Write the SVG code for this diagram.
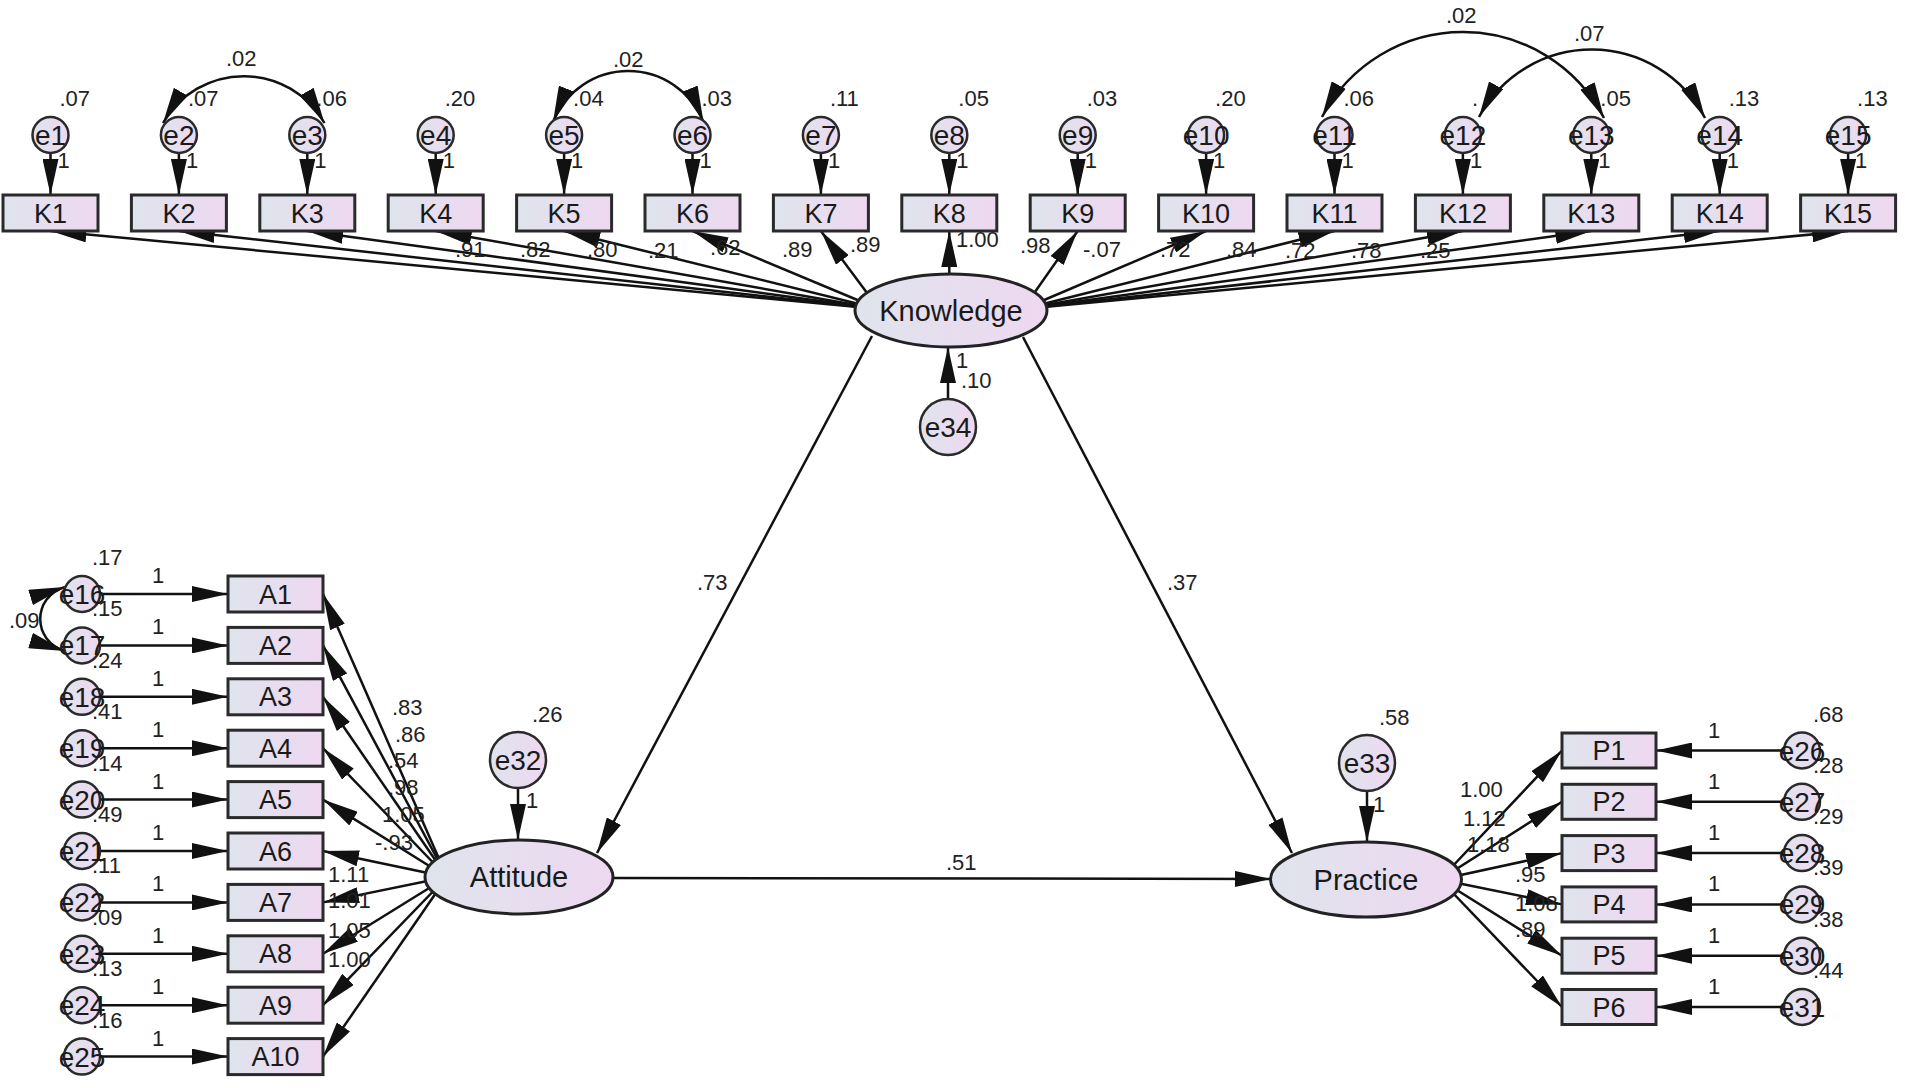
<svg xmlns="http://www.w3.org/2000/svg" width="1905" height="1088" viewBox="0 0 1905 1088">
<defs>
<linearGradient id="gf" x1="0" y1="0" x2="1" y2="0">
<stop offset="0" stop-color="#dfe4ec"/>
<stop offset="1" stop-color="#eed8f1"/>
</linearGradient>
<marker id="ar" viewBox="0 0 36 16" refX="36" refY="8" markerWidth="36" markerHeight="16" markerUnits="userSpaceOnUse" orient="auto-start-reverse">
<path d="M0,0 L36,8 L0,16 Z" fill="#111"/>
</marker>
</defs>
<style>
.bx{fill:url(#gf);stroke:#2a2a2a;stroke-width:3}
.ci{fill:url(#gf);stroke:#2a2a2a;stroke-width:2.5}
.el{fill:url(#gf);stroke:#222;stroke-width:3}
.ln{fill:none;stroke:#111;stroke-width:2.5;marker-end:url(#ar)}
.cv{fill:none;stroke:#111;stroke-width:2.5;marker-start:url(#ar);marker-end:url(#ar)}
text{font-family:"Liberation Sans",Arial,sans-serif;fill:#1a1a1a}
.bl{font-size:27px;text-anchor:middle}
.ll{font-size:29px;text-anchor:middle}
.el2{font-size:28px;text-anchor:middle}
.nm{font-size:22px;fill:#222}
</style>
<rect width="1905" height="1088" fill="#ffffff"/>

<g id="connectors">
<!-- error to K boxes -->
<line class="ln" x1="50.5" y1="153" x2="50.5" y2="195"/>
<line class="ln" x1="178.9" y1="153" x2="178.9" y2="195"/>
<line class="ln" x1="307.3" y1="153" x2="307.3" y2="195"/>
<line class="ln" x1="435.7" y1="153" x2="435.7" y2="195"/>
<line class="ln" x1="564.1" y1="153" x2="564.1" y2="195"/>
<line class="ln" x1="692.5" y1="153" x2="692.5" y2="195"/>
<line class="ln" x1="820.9" y1="153" x2="820.9" y2="195"/>
<line class="ln" x1="949.3" y1="153" x2="949.3" y2="195"/>
<line class="ln" x1="1077.7" y1="153" x2="1077.7" y2="195"/>
<line class="ln" x1="1206.1" y1="153" x2="1206.1" y2="195"/>
<line class="ln" x1="1334.5" y1="153" x2="1334.5" y2="195"/>
<line class="ln" x1="1462.9" y1="153" x2="1462.9" y2="195"/>
<line class="ln" x1="1591.3" y1="153" x2="1591.3" y2="195"/>
<line class="ln" x1="1719.7" y1="153" x2="1719.7" y2="195"/>
<line class="ln" x1="1848.1" y1="153" x2="1848.1" y2="195"/>
<!-- Knowledge to K boxes -->
<line class="ln" x1="879" y1="309" x2="50.5" y2="231"/>
<line class="ln" x1="879" y1="309" x2="178.9" y2="231"/>
<line class="ln" x1="879" y1="309" x2="307.3" y2="231"/>
<line class="ln" x1="879" y1="309" x2="435.7" y2="231"/>
<line class="ln" x1="879" y1="309" x2="564.1" y2="231"/>
<line class="ln" x1="879" y1="309" x2="692.5" y2="231"/>
<line class="ln" x1="879" y1="309" x2="820.9" y2="231"/>
<line class="ln" x1="949.3" y1="310" x2="949.3" y2="231"/>
<line class="ln" x1="1023" y1="309" x2="1077.7" y2="231"/>
<line class="ln" x1="1023" y1="309" x2="1206.1" y2="231"/>
<line class="ln" x1="1023" y1="309" x2="1334.5" y2="231"/>
<line class="ln" x1="1023" y1="309" x2="1462.9" y2="231"/>
<line class="ln" x1="1023" y1="309" x2="1591.3" y2="231"/>
<line class="ln" x1="1023" y1="309" x2="1719.7" y2="231"/>
<line class="ln" x1="1023" y1="309" x2="1848.1" y2="231"/>
<!-- covariances top -->
<path class="cv" d="M163,123 A93,93 0 0 1 324.5,123"/>
<path class="cv" d="M553,122 A81,81 0 0 1 703.5,122"/>
<path class="cv" d="M1322,117 A159,159 0 0 1 1604,118"/>
<path class="cv" d="M1479,117 A128,128 0 0 1 1705,118"/>
<!-- e34 to Knowledge -->
<line class="ln" x1="948" y1="399" x2="948" y2="347"/>
<!-- structural -->
<line class="ln" x1="872" y1="336" x2="597" y2="853"/>
<line class="ln" x1="1023" y1="337" x2="1292" y2="853"/>
<line class="ln" x1="613" y1="878" x2="1271" y2="879"/>
<!-- e32, e33 -->
<line class="ln" x1="518" y1="788" x2="518" y2="840"/>
<line class="ln" x1="1367" y1="791" x2="1367" y2="842"/>
<!-- errors to A boxes -->
<line class="ln" x1="100" y1="594" x2="228" y2="594"/>
<line class="ln" x1="100" y1="645.4" x2="228" y2="645.4"/>
<line class="ln" x1="100" y1="696.8" x2="228" y2="696.8"/>
<line class="ln" x1="100" y1="748.2" x2="228" y2="748.2"/>
<line class="ln" x1="100" y1="799.6" x2="228" y2="799.6"/>
<line class="ln" x1="100" y1="851" x2="228" y2="851"/>
<line class="ln" x1="100" y1="902.4" x2="228" y2="902.4"/>
<line class="ln" x1="100" y1="953.8" x2="228" y2="953.8"/>
<line class="ln" x1="100" y1="1005.2" x2="228" y2="1005.2"/>
<line class="ln" x1="100" y1="1056.6" x2="228" y2="1056.6"/>
<!-- Attitude to A boxes -->
<line class="ln" x1="447" y1="877" x2="323" y2="594"/>
<line class="ln" x1="447" y1="877" x2="323" y2="645.4"/>
<line class="ln" x1="447" y1="877" x2="323" y2="696.8"/>
<line class="ln" x1="447" y1="877" x2="323" y2="748.2"/>
<line class="ln" x1="447" y1="877" x2="323" y2="799.6"/>
<line class="ln" x1="447" y1="877" x2="323" y2="851"/>
<line class="ln" x1="447" y1="877" x2="323" y2="902.4"/>
<line class="ln" x1="447" y1="877" x2="323" y2="953.8"/>
<line class="ln" x1="447" y1="877" x2="323" y2="1005.2"/>
<line class="ln" x1="447" y1="877" x2="323" y2="1056.6"/>
<!-- covariance e16-e17 -->
<path class="cv" d="M65,587 C32,597 32,641 65,651"/>
<!-- Practice to P boxes -->
<line class="ln" x1="1440" y1="879.5" x2="1562" y2="750.5"/>
<line class="ln" x1="1440" y1="879.5" x2="1562" y2="801.8"/>
<line class="ln" x1="1440" y1="879.5" x2="1562" y2="853.1"/>
<line class="ln" x1="1440" y1="879.5" x2="1562" y2="904.4"/>
<line class="ln" x1="1440" y1="879.5" x2="1562" y2="955.7"/>
<line class="ln" x1="1440" y1="879.5" x2="1562" y2="1007"/>
<!-- errors to P boxes -->
<line class="ln" x1="1784" y1="750.5" x2="1656" y2="750.5"/>
<line class="ln" x1="1784" y1="801.8" x2="1656" y2="801.8"/>
<line class="ln" x1="1784" y1="853.1" x2="1656" y2="853.1"/>
<line class="ln" x1="1784" y1="904.4" x2="1656" y2="904.4"/>
<line class="ln" x1="1784" y1="955.7" x2="1656" y2="955.7"/>
<line class="ln" x1="1784" y1="1007" x2="1656" y2="1007"/>
</g>

<g id="connector-labels">
<text class="nm" x="226" y="66">.02</text>
<text class="nm" x="613" y="67">.02</text>
<text class="nm" x="1446" y="23">.02</text>
<text class="nm" x="1574" y="41">.07</text>
<text class="nm" x="455" y="257">.91</text>
<text class="nm" x="520" y="257">.82</text>
<text class="nm" x="587" y="257">.80</text>
<text class="nm" x="648" y="258">.21</text>
<text class="nm" x="710" y="255">.62</text>
<text class="nm" x="782" y="257">.89</text>
<text class="nm" x="850" y="252">.89</text>
<text class="nm" x="956" y="247">1.00</text>
<text class="nm" x="1020" y="253">.98</text>
<text class="nm" x="1083" y="257">-.07</text>
<text class="nm" x="1160" y="257">.72</text>
<text class="nm" x="1226" y="257">.84</text>
<text class="nm" x="1285" y="258">.72</text>
<text class="nm" x="1351" y="258">.78</text>
<text class="nm" x="1420" y="258">.25</text>
<text class="nm" x="697" y="590">.73</text>
<text class="nm" x="1167" y="590">.37</text>
<text class="nm" x="946" y="870">.51</text>
<text class="nm" x="392" y="715">.83</text>
<text class="nm" x="395" y="742">.86</text>
<text class="nm" x="388" y="768">.54</text>
<text class="nm" x="388" y="795">.98</text>
<text class="nm" x="382" y="822">1.05</text>
<text class="nm" x="375" y="850">-.93</text>
<text class="nm" x="328" y="882">1.11</text>
<text class="nm" x="328" y="908">1.01</text>
<text class="nm" x="328" y="938">1.05</text>
<text class="nm" x="328" y="967">1.00</text>
<text class="nm" x="1460" y="797">1.00</text>
<text class="nm" x="1463" y="826">1.12</text>
<text class="nm" x="1467" y="852">1.18</text>
<text class="nm" x="1515" y="882">.95</text>
<text class="nm" x="1515" y="911">1.08</text>
<text class="nm" x="1515" y="937">.89</text>
<text class="nm" x="9" y="628">.09</text>
<!-- fixed 1 loadings -->
<text class="nm" x="57.5" y="168">1</text>
<text class="nm" x="185.9" y="168">1</text>
<text class="nm" x="314.3" y="168">1</text>
<text class="nm" x="442.7" y="168">1</text>
<text class="nm" x="571.1" y="168">1</text>
<text class="nm" x="699.5" y="168">1</text>
<text class="nm" x="827.9" y="168">1</text>
<text class="nm" x="956.3" y="168">1</text>
<text class="nm" x="1084.7" y="168">1</text>
<text class="nm" x="1213.1" y="168">1</text>
<text class="nm" x="1341.5" y="168">1</text>
<text class="nm" x="1469.9" y="168">1</text>
<text class="nm" x="1598.3" y="168">1</text>
<text class="nm" x="1726.7" y="168">1</text>
<text class="nm" x="1855.1" y="168">1</text>
<text class="nm" x="956" y="368">1</text>
<text class="nm" x="526" y="808">1</text>
<text class="nm" x="1373" y="812">1</text>
<text class="nm" x="152" y="583">1</text>
<text class="nm" x="152" y="634.4">1</text>
<text class="nm" x="152" y="685.8">1</text>
<text class="nm" x="152" y="737.2">1</text>
<text class="nm" x="152" y="788.6">1</text>
<text class="nm" x="152" y="840">1</text>
<text class="nm" x="152" y="891.4">1</text>
<text class="nm" x="152" y="942.8">1</text>
<text class="nm" x="152" y="994.2">1</text>
<text class="nm" x="152" y="1045.6">1</text>
<text class="nm" x="1708" y="737.5">1</text>
<text class="nm" x="1708" y="788.8">1</text>
<text class="nm" x="1708" y="840.1">1</text>
<text class="nm" x="1708" y="891.4">1</text>
<text class="nm" x="1708" y="942.7">1</text>
<text class="nm" x="1708" y="994">1</text>
</g>

<g id="K1"><rect class="bx" x="3" y="195" width="95" height="36"/><text class="bl" x="50.5" y="222.5">K1</text></g>
<g id="K2"><rect class="bx" x="131.4" y="195" width="95" height="36"/><text class="bl" x="178.9" y="222.5">K2</text></g>
<g id="K3"><rect class="bx" x="259.8" y="195" width="95" height="36"/><text class="bl" x="307.3" y="222.5">K3</text></g>
<g id="K4"><rect class="bx" x="388.2" y="195" width="95" height="36"/><text class="bl" x="435.7" y="222.5">K4</text></g>
<g id="K5"><rect class="bx" x="516.6" y="195" width="95" height="36"/><text class="bl" x="564.1" y="222.5">K5</text></g>
<g id="K6"><rect class="bx" x="645" y="195" width="95" height="36"/><text class="bl" x="692.5" y="222.5">K6</text></g>
<g id="K7"><rect class="bx" x="773.4" y="195" width="95" height="36"/><text class="bl" x="820.9" y="222.5">K7</text></g>
<g id="K8"><rect class="bx" x="901.8" y="195" width="95" height="36"/><text class="bl" x="949.3" y="222.5">K8</text></g>
<g id="K9"><rect class="bx" x="1030.2" y="195" width="95" height="36"/><text class="bl" x="1077.7" y="222.5">K9</text></g>
<g id="K10"><rect class="bx" x="1158.6" y="195" width="95" height="36"/><text class="bl" x="1206.1" y="222.5">K10</text></g>
<g id="K11"><rect class="bx" x="1287" y="195" width="95" height="36"/><text class="bl" x="1334.5" y="222.5">K11</text></g>
<g id="K12"><rect class="bx" x="1415.4" y="195" width="95" height="36"/><text class="bl" x="1462.9" y="222.5">K12</text></g>
<g id="K13"><rect class="bx" x="1543.8" y="195" width="95" height="36"/><text class="bl" x="1591.3" y="222.5">K13</text></g>
<g id="K14"><rect class="bx" x="1672.2" y="195" width="95" height="36"/><text class="bl" x="1719.7" y="222.5">K14</text></g>
<g id="K15"><rect class="bx" x="1800.6" y="195" width="95" height="36"/><text class="bl" x="1848.1" y="222.5">K15</text></g>

<g id="e1"><circle class="ci" cx="50.5" cy="135" r="18"/><text class="el2" x="50.5" y="145">e1</text><text class="nm" x="59.5" y="106">.07</text></g>
<g id="e2"><circle class="ci" cx="178.9" cy="135" r="18"/><text class="el2" x="178.9" y="145">e2</text><text class="nm" x="187.9" y="106">.07</text></g>
<g id="e3"><circle class="ci" cx="307.3" cy="135" r="18"/><text class="el2" x="307.3" y="145">e3</text><text class="nm" x="316.3" y="106">.06</text></g>
<g id="e4"><circle class="ci" cx="435.7" cy="135" r="18"/><text class="el2" x="435.7" y="145">e4</text><text class="nm" x="444.7" y="106">.20</text></g>
<g id="e5"><circle class="ci" cx="564.1" cy="135" r="18"/><text class="el2" x="564.1" y="145">e5</text><text class="nm" x="573.1" y="106">.04</text></g>
<g id="e6"><circle class="ci" cx="692.5" cy="135" r="18"/><text class="el2" x="692.5" y="145">e6</text><text class="nm" x="701.5" y="106">.03</text></g>
<g id="e7"><circle class="ci" cx="820.9" cy="135" r="18"/><text class="el2" x="820.9" y="145">e7</text><text class="nm" x="829.9" y="106">.11</text></g>
<g id="e8"><circle class="ci" cx="949.3" cy="135" r="18"/><text class="el2" x="949.3" y="145">e8</text><text class="nm" x="958.3" y="106">.05</text></g>
<g id="e9"><circle class="ci" cx="1077.7" cy="135" r="18"/><text class="el2" x="1077.7" y="145">e9</text><text class="nm" x="1086.7" y="106">.03</text></g>
<g id="e10"><circle class="ci" cx="1206.1" cy="135" r="18"/><text class="el2" x="1206.1" y="145">e10</text><text class="nm" x="1215.1" y="106">.20</text></g>
<g id="e11"><circle class="ci" cx="1334.5" cy="135" r="18"/><text class="el2" x="1334.5" y="145">e11</text><text class="nm" x="1343.5" y="106">.06</text></g>
<g id="e12"><circle class="ci" cx="1462.9" cy="135" r="18"/><text class="el2" x="1462.9" y="145">e12</text><text class="nm" x="1471.9" y="106">.</text></g>
<g id="e13"><circle class="ci" cx="1591.3" cy="135" r="18"/><text class="el2" x="1591.3" y="145">e13</text><text class="nm" x="1600.3" y="106">.05</text></g>
<g id="e14"><circle class="ci" cx="1719.7" cy="135" r="18"/><text class="el2" x="1719.7" y="145">e14</text><text class="nm" x="1728.7" y="106">.13</text></g>
<g id="e15"><circle class="ci" cx="1848.1" cy="135" r="18"/><text class="el2" x="1848.1" y="145">e15</text><text class="nm" x="1857.1" y="106">.13</text></g>

<g id="Knowledge"><ellipse class="el" cx="951" cy="310.5" rx="96" ry="36.5"/><text class="ll" x="951" y="320.5">Knowledge</text></g>
<g id="e34"><circle class="ci" cx="948" cy="427" r="28"/><text class="el2" x="948" y="437">e34</text><text class="nm" x="961" y="388">.10</text></g>

<g id="Attitude"><ellipse class="el" cx="519" cy="877" rx="94" ry="37"/><text class="ll" x="519" y="887">Attitude</text></g>
<g id="e32"><circle class="ci" cx="518" cy="760" r="28"/><text class="el2" x="518" y="770">e32</text><text class="nm" x="532" y="722">.26</text></g>

<g id="Practice"><ellipse class="el" cx="1366" cy="879.5" rx="95.5" ry="37.5"/><text class="ll" x="1366" y="889.5">Practice</text></g>
<g id="e33"><circle class="ci" cx="1367" cy="763" r="28"/><text class="el2" x="1367" y="773">e33</text><text class="nm" x="1379" y="725">.58</text></g>

<g id="A1"><rect class="bx" x="228" y="576" width="95" height="36"/><text class="bl" x="275.5" y="603.5">A1</text></g>
<g id="A2"><rect class="bx" x="228" y="627.4" width="95" height="36"/><text class="bl" x="275.5" y="654.9">A2</text></g>
<g id="A3"><rect class="bx" x="228" y="678.8" width="95" height="36"/><text class="bl" x="275.5" y="706.3">A3</text></g>
<g id="A4"><rect class="bx" x="228" y="730.2" width="95" height="36"/><text class="bl" x="275.5" y="757.7">A4</text></g>
<g id="A5"><rect class="bx" x="228" y="781.6" width="95" height="36"/><text class="bl" x="275.5" y="809.1">A5</text></g>
<g id="A6"><rect class="bx" x="228" y="833" width="95" height="36"/><text class="bl" x="275.5" y="860.5">A6</text></g>
<g id="A7"><rect class="bx" x="228" y="884.4" width="95" height="36"/><text class="bl" x="275.5" y="911.9">A7</text></g>
<g id="A8"><rect class="bx" x="228" y="935.8" width="95" height="36"/><text class="bl" x="275.5" y="963.3">A8</text></g>
<g id="A9"><rect class="bx" x="228" y="987.2" width="95" height="36"/><text class="bl" x="275.5" y="1014.7">A9</text></g>
<g id="A10"><rect class="bx" x="228" y="1038.6" width="95" height="36"/><text class="bl" x="275.5" y="1066.1">A10</text></g>

<g id="e16"><circle class="ci" cx="82" cy="594" r="18"/><text class="el2" x="82" y="604">e16</text><text class="nm" x="92" y="565">.17</text></g>
<g id="e17"><circle class="ci" cx="82" cy="645.4" r="18"/><text class="el2" x="82" y="655.4">e17</text><text class="nm" x="92" y="616.4">.15</text></g>
<g id="e18"><circle class="ci" cx="82" cy="696.8" r="18"/><text class="el2" x="82" y="706.8">e18</text><text class="nm" x="92" y="667.8">.24</text></g>
<g id="e19"><circle class="ci" cx="82" cy="748.2" r="18"/><text class="el2" x="82" y="758.2">e19</text><text class="nm" x="92" y="719.2">.41</text></g>
<g id="e20"><circle class="ci" cx="82" cy="799.6" r="18"/><text class="el2" x="82" y="809.6">e20</text><text class="nm" x="92" y="770.6">.14</text></g>
<g id="e21"><circle class="ci" cx="82" cy="851" r="18"/><text class="el2" x="82" y="861">e21</text><text class="nm" x="92" y="822">.49</text></g>
<g id="e22"><circle class="ci" cx="82" cy="902.4" r="18"/><text class="el2" x="82" y="912.4">e22</text><text class="nm" x="92" y="873.4">.11</text></g>
<g id="e23"><circle class="ci" cx="82" cy="953.8" r="18"/><text class="el2" x="82" y="963.8">e23</text><text class="nm" x="92" y="924.8">.09</text></g>
<g id="e24"><circle class="ci" cx="82" cy="1005.2" r="18"/><text class="el2" x="82" y="1015.2">e24</text><text class="nm" x="92" y="976.2">.13</text></g>
<g id="e25"><circle class="ci" cx="82" cy="1056.6" r="18"/><text class="el2" x="82" y="1066.6">e25</text><text class="nm" x="92" y="1027.6">.16</text></g>

<g id="P1"><rect class="bx" x="1562" y="733" width="94" height="35"/><text class="bl" x="1609" y="760">P1</text></g>
<g id="P2"><rect class="bx" x="1562" y="784.3" width="94" height="35"/><text class="bl" x="1609" y="811.3">P2</text></g>
<g id="P3"><rect class="bx" x="1562" y="835.6" width="94" height="35"/><text class="bl" x="1609" y="862.6">P3</text></g>
<g id="P4"><rect class="bx" x="1562" y="886.9" width="94" height="35"/><text class="bl" x="1609" y="913.9">P4</text></g>
<g id="P5"><rect class="bx" x="1562" y="938.2" width="94" height="35"/><text class="bl" x="1609" y="965.2">P5</text></g>
<g id="P6"><rect class="bx" x="1562" y="989.5" width="94" height="35"/><text class="bl" x="1609" y="1016.5">P6</text></g>

<g id="e26"><circle class="ci" cx="1802" cy="750.5" r="18"/><text class="el2" x="1802" y="760.5">e26</text><text class="nm" x="1813" y="722">.68</text></g>
<g id="e27"><circle class="ci" cx="1802" cy="801.8" r="18"/><text class="el2" x="1802" y="811.8">e27</text><text class="nm" x="1813" y="773">.28</text></g>
<g id="e28"><circle class="ci" cx="1802" cy="853.1" r="18"/><text class="el2" x="1802" y="863.1">e28</text><text class="nm" x="1813" y="824">.29</text></g>
<g id="e29"><circle class="ci" cx="1802" cy="904.4" r="18"/><text class="el2" x="1802" y="914.4">e29</text><text class="nm" x="1813" y="875">.39</text></g>
<g id="e30"><circle class="ci" cx="1802" cy="955.7" r="18"/><text class="el2" x="1802" y="965.7">e30</text><text class="nm" x="1813" y="927">.38</text></g>
<g id="e31"><circle class="ci" cx="1802" cy="1007" r="18"/><text class="el2" x="1802" y="1017">e31</text><text class="nm" x="1813" y="978">.44</text></g>
</svg>
